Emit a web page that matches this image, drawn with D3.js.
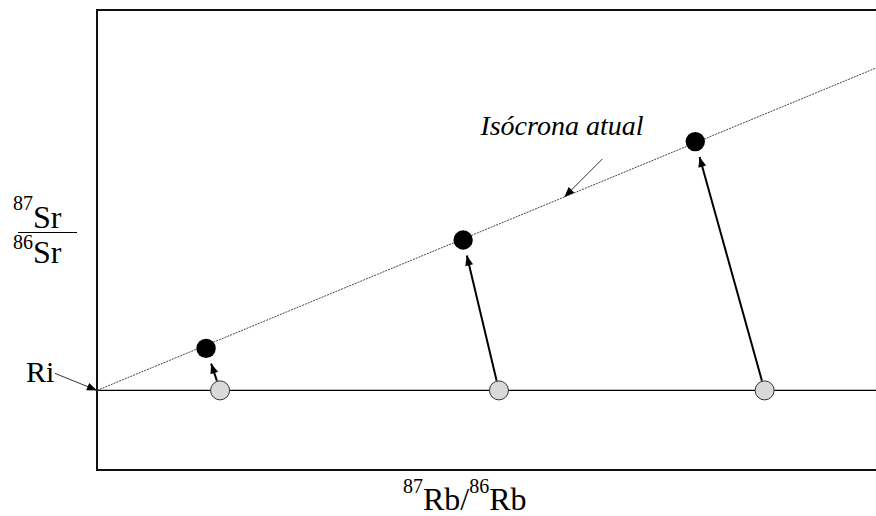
<!DOCTYPE html>
<html>
<head>
<meta charset="utf-8">
<script src="https://cdn.jsdelivr.net/npm/d3@7/dist/d3.min.js"></script>
<style>
	body { margin: 0; background: #fff; }
</style>
</head>
<body>
<svg width="876" height="516"></svg>
<script>
// 87Rb/86Rb of each sample when the rock formed (grey) and today (black)
var rbInitial = [1.58, 5.16, 8.57];
var rbPresent = [1.40, 4.70, 7.68];
// 87Sr/86Sr (arbitrary units) today
var srPresent = [6.08, 11.5, 16.42];
// initial ratio, shared by all samples at formation
var ri = 3.98;
// isochron: from Ri at x=0 to the right edge of the plot
var isoX = [0, 10];
var isoY = [3.98, 20.1];

var serif = "'Liberation Serif', 'Times New Roman', Tinos, 'DejaVu Serif', serif";

function drawChart() {
	var svg = d3.select("svg"),
		margin = {
			top: 10,
			right: 0,
			bottom: 46,
			left: 97
		},
		width = +svg.attr("width") - margin.left - margin.right,
		height = +svg.attr("height") - margin.top - margin.bottom;

	var x = d3.scaleLinear().domain([0, 10]).range([0, width]),
		y = d3.scaleLinear().domain([0, 23]).range([height, 0]);

	var defs = svg.append("defs");
	defs.append("marker")
		.attr("id", "head")
		.attr("markerUnits", "userSpaceOnUse")
		.attr("viewBox", "0 -5 10 10")
		.attr("refX", 10)
		.attr("refY", 0)
		.attr("markerWidth", 11)
		.attr("markerHeight", 10)
		.attr("orient", "auto")
		.append("path")
		.attr("d", "M0,-4L10,0L0,4Z")
		.attr("fill", "#000");

	var g = svg.append("g")
		.attr("transform", "translate(" + margin.left + "," + margin.top + ")");

	// frame (open to the right)
	g.append("path")
		.attr("d", "M" + (width + 10) + ",0H0V" + height + "H" + (width + 10))
		.attr("fill", "none")
		.attr("stroke", "#111")
		.attr("stroke-width", 2);

	// initial ratio line
	g.append("line")
		.attr("x1", x(0))
		.attr("x2", width + 10)
		.attr("y1", y(ri))
		.attr("y2", y(ri))
		.attr("stroke", "#000")
		.attr("stroke-width", 1.3);

	// present isochron
	g.append("line")
		.attr("x1", x(isoX[0]))
		.attr("y1", y(isoY[0]))
		.attr("x2", x(isoX[1]))
		.attr("y2", y(isoY[1]))
		.attr("stroke", "#444")
		.attr("stroke-width", 1)
		.attr("stroke-dasharray", "2,1");

	var samples = [];
	for (var i = 0; i < rbInitial.length; i++) {
		samples.push({
			x0: rbInitial[i],
			y0: ri,
			x1: rbPresent[i],
			y1: srPresent[i]
		});
	}

	// arrows from initial to present composition
	g.selectAll(".evol")
		.data(samples)
		.enter().append("line")
		.attr("class", "evol")
		.each(function(d) {
			var ax = x(d.x0), ay = y(d.y0), bx = x(d.x1), by = y(d.y1);
			var len = Math.sqrt((bx - ax) * (bx - ax) + (by - ay) * (by - ay));
			var ux = (bx - ax) / len, uy = (by - ay) / len;
			d.sx = ax + ux * 10;
			d.sy = ay + uy * 10;
			d.ex = bx - ux * 16;
			d.ey = by - uy * 16;
		})
		.attr("x1", function(d) { return d.sx; })
		.attr("y1", function(d) { return d.sy; })
		.attr("x2", function(d) { return d.ex; })
		.attr("y2", function(d) { return d.ey; })
		.attr("stroke", "#000")
		.attr("stroke-width", 2)
		.attr("marker-end", "url(#head)");

	g.selectAll(".old")
		.data(samples)
		.enter().append("circle")
		.attr("class", "old")
		.attr("cx", function(d) { return x(d.x0); })
		.attr("cy", function(d) { return y(d.y0); })
		.attr("r", 9.5)
		.attr("fill", "#d9d9d9")
		.attr("stroke", "#333")
		.attr("stroke-width", 1);

	g.selectAll(".now")
		.data(samples)
		.enter().append("circle")
		.attr("class", "now")
		.attr("cx", function(d) { return x(d.x1); })
		.attr("cy", function(d) { return y(d.y1); })
		.attr("r", 9.7)
		.attr("fill", "#000");

	// isochron label and leader
	var t = 0.6;
	var lx = x(isoX[0]) + t * (x(isoX[1]) - x(isoX[0]));
	var ly = y(isoY[0]) + t * (y(isoY[1]) - y(isoY[0]));
	g.append("line")
		.attr("x1", lx + 38)
		.attr("y1", ly - 38)
		.attr("x2", lx)
		.attr("y2", ly)
		.attr("stroke", "#333")
		.attr("stroke-width", 1)
		.attr("marker-end", "url(#head)");
	g.append("text")
		.attr("x", lx - 84)
		.attr("y", ly - 62)
		.attr("font-family", serif)
		.attr("font-style", "italic")
		.attr("font-size", 28)
		.text("Isócrona atual");

	// Ri label and leader
	g.append("line")
		.attr("x1", -42)
		.attr("y1", y(ri) - 17)
		.attr("x2", x(0))
		.attr("y2", y(ri))
		.attr("stroke", "#333")
		.attr("stroke-width", 1)
		.attr("marker-end", "url(#head)");
	g.append("text")
		.attr("x", -71)
		.attr("y", y(ri) - 8.5)
		.attr("font-family", serif)
		.attr("font-size", 30)
		.text("Ri");

	// y axis label: 87Sr / 86Sr
	var yl = svg.append("g")
		.attr("font-family", serif);
	var top = yl.append("text")
		.attr("x", 13)
		.attr("y", 210)
		.attr("font-size", 32);
	top.append("tspan").attr("font-size", 20).text("87");
	top.append("tspan").attr("dy", 17.5).text("Sr");
	yl.append("line")
		.attr("x1", 18)
		.attr("x2", 77)
		.attr("y1", 232.5)
		.attr("y2", 232.5)
		.attr("stroke", "#000")
		.attr("stroke-width", 1);
	var bot = yl.append("text")
		.attr("x", 13)
		.attr("y", 249)
		.attr("font-size", 32);
	bot.append("tspan").attr("font-size", 20).text("86");
	bot.append("tspan").attr("dy", 13.5).text("Sr");

	// x axis label: 87Rb/86Rb
	var xl = svg.append("text")
		.attr("x", 403)
		.attr("y", 493)
		.attr("font-family", serif)
		.attr("font-size", 32);
	xl.append("tspan").attr("font-size", 20).text("87");
	xl.append("tspan").attr("dy", 17).text("Rb/");
	xl.append("tspan").attr("dy", -17).attr("font-size", 20).text("86");
	xl.append("tspan").attr("dy", 17).text("Rb");
}

drawChart();
</script>
</body>
</html>
